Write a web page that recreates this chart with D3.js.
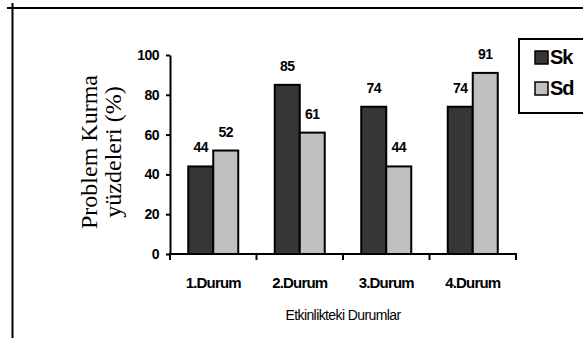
<!DOCTYPE html>
<html><head><meta charset="utf-8">
<script src="https://cdn.jsdelivr.net/npm/d3@7"></script>
<style>body{margin:0;background:#fff}svg{display:block}</style>
</head><body>
<svg id="c" width="583" height="338"></svg>
<script>
const categories = ["1.Durum", "2.Durum", "3.Durum", "4.Durum"];
const seriesNames = ["Sk", "Sd"];
const skValues = [44, 85, 74, 74];
const sdValues = [52, 61, 44, 91];
const yTicks = [0, 20, 40, 60, 80, 100];
const colors = {Sk: "#363636", Sd: "#c0c0c0"};

const svg = d3.select("#c");
const bold = "'Liberation Sans', Arial, sans-serif";

// frame lines
svg.append("line").attr("x1", 7).attr("x2", 583).attr("y1", 8).attr("y2", 8).attr("stroke", "#000").attr("stroke-width", 2);
svg.append("line").attr("x1", 12.5).attr("x2", 12.5).attr("y1", 3).attr("y2", 338).attr("stroke", "#000").attr("stroke-width", 2);

const x0 = d3.scaleBand().domain(categories).range([170, 516]).padding(0);
const bw = x0.bandwidth();
const x1 = d3.scaleBand().domain(seriesNames).range([(bw - 50) / 2, (bw + 50) / 2]).padding(0);
const y = d3.scaleLinear().domain([0, 100]).range([254, 55]);

const data = categories.map((c, i) => ({cat: c, vals: [{s: "Sk", v: skValues[i]}, {s: "Sd", v: sdValues[i]}]}));

const g = svg.append("g");
const groups = g.selectAll("g.grp").data(data).join("g").attr("transform", d => `translate(${x0(d.cat)},0)`);
groups.selectAll("rect").data(d => d.vals).join("rect")
  .attr("x", d => x1(d.s)).attr("width", x1.bandwidth())
  .attr("y", d => y(d.v)).attr("height", d => y(0) - y(d.v))
  .attr("fill", d => colors[d.s]).attr("stroke", "#000").attr("stroke-width", 2);
groups.selectAll("text").data(d => d.vals).join("text")
  .attr("x", d => x1(d.s) + x1.bandwidth() / 2).attr("y", d => y(d.v) - 14)
  .attr("text-anchor", "middle").attr("font-family", bold).attr("font-weight", "bold")
  .attr("font-size", 14).attr("letter-spacing", -0.5).text(d => d.v);

// y axis
const ya = svg.append("g").attr("transform", "translate(170,0)")
  .call(d3.axisLeft(y).tickValues(yTicks).tickSize(4).tickSizeOuter(0).tickPadding(7));
ya.select(".domain").attr("stroke-width", 2);
ya.selectAll(".tick line").attr("stroke-width", 2);
ya.selectAll("text").attr("font-family", bold).attr("font-weight", "bold").attr("font-size", 14).attr("letter-spacing", -0.5).attr("fill", "#000");

// x axis
const xa = svg.append("g");
xa.append("line").attr("x1", 169).attr("x2", 517).attr("y1", y(0)).attr("y2", y(0)).attr("stroke", "#000").attr("stroke-width", 2);
const tickPos = categories.map(c => x0(c)).concat([x0.range()[1]]);
xa.selectAll("line.t").data(tickPos).join("line").attr("class", "t")
  .attr("x1", d => d).attr("x2", d => d).attr("y1", y(0)).attr("y2", y(0) + 6)
  .attr("stroke", "#000").attr("stroke-width", 2);
xa.selectAll("text").data(categories).join("text")
  .attr("x", d => x0(d) + bw / 2).attr("y", 288).attr("text-anchor", "middle")
  .attr("font-family", bold).attr("font-weight", "bold").attr("font-size", 15).attr("letter-spacing", -0.8)
  .text(d => d);

svg.append("text").attr("x", (x0.range()[0] + x0.range()[1]) / 2).attr("y", 320).attr("text-anchor", "middle")
  .attr("font-family", bold).attr("font-size", 14).attr("letter-spacing", -0.6).text("Etkinlikteki Durumlar");

// y title
const serif = "'Liberation Serif', 'Times New Roman', serif";
[["Problem Kurma", 97], ["yüzdeleri (%)", 121]].forEach(([t, xx]) => {
  svg.append("text").attr("transform", `translate(${xx},152) rotate(-90)`)
    .attr("text-anchor", "middle")
    .attr("font-family", serif).attr("font-size", 24).text(t);
});

// legend
const lg = svg.append("g");
lg.append("rect").attr("x", 519).attr("y", 39).attr("width", 80).attr("height", 74).attr("fill", "#fff").attr("stroke", "#000").attr("stroke-width", 2);
lg.selectAll("rect.k").data(seriesNames).join("rect").attr("class", "k")
  .attr("x", 535).attr("y", (d, i) => 51 + i * 31).attr("width", 13).attr("height", 13)
  .attr("fill", d => colors[d]).attr("stroke", "#000").attr("stroke-width", 1.5);
lg.selectAll("text").data(seriesNames).join("text")
  .attr("x", 550).attr("y", (d, i) => 64 + i * 31)
  .attr("font-family", bold).attr("font-weight", "bold").attr("font-size", 20).attr("letter-spacing", -1)
  .text(d => d);
</script>
</body></html>
